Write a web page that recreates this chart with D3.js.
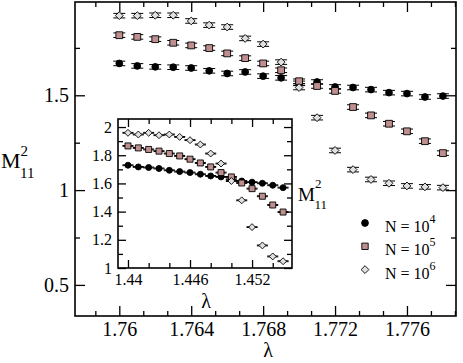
<!DOCTYPE html>
<html>
<head>
<meta charset="utf-8">
<script src="https://cdn.jsdelivr.net/npm/d3@7"></script>
<style>
body { margin: 0; background: #fff; }
svg { display: block; }
</style>
</head>
<body>
<div id="chart"></div>
<script>
// main panel: lambda 1.760 .. 1.778
let lambdaMain = [1.760, 1.761, 1.762, 1.763, 1.764, 1.765, 1.766, 1.767, 1.768, 1.769,
  1.770, 1.771, 1.772, 1.773, 1.774, 1.775, 1.776, 1.777, 1.778];
let mainN4 = [1.668, 1.655, 1.650, 1.648, 1.644, 1.629, 1.615, 1.623, 1.601, 1.592,
  1.563, 1.570, 1.544, 1.541, 1.530, 1.514, 1.509, 1.491, 1.496];
let mainN5 = [1.817, 1.808, 1.796, 1.777, 1.763, 1.749, 1.721, 1.696, 1.668, 1.632,
  1.574, 1.549, 1.523, 1.438, 1.394, 1.350, 1.310, 1.258, 1.195];
let mainN6 = [1.920, 1.920, 1.922, 1.922, 1.892, 1.870, 1.860, 1.800, 1.770, 1.675,
  1.541, 1.382, 1.209, 1.108, 1.056, 1.036, 1.022, 1.017, 1.013];

// inset: lambda 1.440 .. 1.455
let lambdaInset = [1.440, 1.441, 1.442, 1.443, 1.444, 1.445, 1.446, 1.447, 1.448, 1.449,
  1.450, 1.451, 1.452, 1.453, 1.454, 1.455];
let insetN4 = [1.729, 1.717, 1.713, 1.706, 1.693, 1.684, 1.677, 1.665, 1.653, 1.646,
  1.629, 1.617, 1.609, 1.601, 1.587, 1.570];
let insetN5 = [1.866, 1.852, 1.841, 1.829, 1.812, 1.795, 1.772, 1.745, 1.717, 1.677,
  1.646, 1.603, 1.563, 1.509, 1.447, 1.397];
let insetN6 = [1.959, 1.947, 1.959, 1.942, 1.947, 1.930, 1.907, 1.876, 1.812, 1.741,
  1.617, 1.480, 1.290, 1.160, 1.082, 1.048];

let errMain = 0.012;
let errInset = 0.003;

let legendExp = ['4', '5', '6'];
let mainXTicks = [1.76, 1.764, 1.768, 1.772, 1.776];
let mainYTicks = [0.5, 1, 1.5];
let insetXTicks = [1.44, 1.446, 1.452];
let insetYTicks = [1, 1.2, 1.4, 1.6, 1.8, 2];

let w = 463, h = 363;
let serif = '"Liberation Serif", "Times New Roman", Times, "DejaVu Serif", serif';

let svg = d3.select('#chart').
append('svg').
attr('width', w).
attr('height', h).
attr('font-family', serif);

let fmt = d => String(+d.toFixed(3));

// marker shapes
function markerPath(kind, s) {
  if (kind == 'circle') return d3.symbol().type(d3.symbolCircle).size(Math.PI * s * s)();
  if (kind == 'square') return 'M' + (-s) + ',' + (-s) + 'H' + s + 'V' + s + 'H' + (-s) + 'Z';
  let d = s * 1.15;
  return 'M0,' + (-d) + 'L' + d + ',0L0,' + d + 'L' + (-d) + ',0Z';
}
let styles = [
  {kind: 'circle', fill: '#000'},
  {kind: 'square', fill: '#bf8f8f'},
  {kind: 'diamond', fill: '#e0e0e0'}
];

function minorTicks(majors, n) {
  let step = (majors[1] - majors[0]) / (n + 1);
  let out = [];
  for (let i = -n - 1; i < (majors.length + 1) * (n + 1); i++) {
    let v = majors[0] + i * step;
    out.push(+v.toFixed(6));
  }
  return out.filter(v => !majors.some(m => Math.abs(m - v) < step / 10));
}

function drawPanel(g, x, y, opt) {
  let [x0, x1] = x.range();
  let [y0, y1] = y.range();
  g.append('rect').
  attr('x', x0).attr('y', y1).
  attr('width', x1 - x0).attr('height', y0 - y1).
  attr('fill', '#fff');

  let xMin = minorTicks(opt.xTicks, opt.xMinorN).filter(v => x(v) > x0 + 1 && x(v) < x1 - 1);
  let yMin = minorTicks(opt.yTicks, opt.yMinorN).filter(v => y(v) < y0 - 1 && y(v) > y1 + 1);

  let axes = [
    [d3.axisBottom(x), 'translate(0,' + y0 + ')', opt.xTicks, xMin, true],
    [d3.axisTop(x), 'translate(0,' + y1 + ')', opt.xTicks, xMin, false],
    [d3.axisLeft(y), 'translate(' + x0 + ',0)', opt.yTicks, yMin, true],
    [d3.axisRight(y), 'translate(' + x1 + ',0)', opt.yTicks, yMin, false]
  ];
  axes.forEach(([ax, tr, major, minor, lab]) => {
    let a = g.append('g').attr('transform', tr).
    call(ax.tickValues(major).tickSizeInner(-opt.major).tickSizeOuter(0).
      tickPadding(lab ? opt.pad : 0).tickFormat(lab ? fmt : ''));
    a.attr('font-family', serif).attr('font-size', opt.font);
    a.selectAll('.domain').remove();
    a.selectAll('line').attr('stroke', '#000').attr('stroke-width', 1.3);
    a.selectAll('text').attr('fill', '#000');
    let b = g.append('g').attr('transform', tr).
    call(ax.tickValues(minor).tickSizeInner(-opt.minor).tickSizeOuter(0).tickFormat(''));
    b.selectAll('.domain').remove();
    b.selectAll('line').attr('stroke', '#000').attr('stroke-width', 1.3);
  });

  g.append('rect').
  attr('x', x0).attr('y', y1).
  attr('width', x1 - x0).attr('height', y0 - y1).
  attr('fill', 'none').
  attr('stroke', '#000').
  attr('stroke-width', 1.6);
}

function drawSeries(g, x, y, xs, ys, st, err, size, cap) {
  let pts = g.append('g').selectAll('g').
  data(ys.map((v, i) => ({x: xs[i], y: v}))).
  join('g').
  attr('transform', d => 'translate(' + x(d.x) + ',0)');

  pts.append('line').
  attr('y1', d => y(d.y - err)).attr('y2', d => y(d.y + err)).
  attr('stroke', '#000');
  pts.append('line').
  attr('x1', -cap).attr('x2', cap).
  attr('y1', d => y(d.y - err)).attr('y2', d => y(d.y - err)).
  attr('stroke', '#000');
  pts.append('line').
  attr('x1', -cap).attr('x2', cap).
  attr('y1', d => y(d.y + err)).attr('y2', d => y(d.y + err)).
  attr('stroke', '#000');
  pts.append('path').
  attr('transform', d => 'translate(0,' + y(d.y) + ')').
  attr('d', markerPath(st.kind, size)).
  attr('fill', st.fill).
  attr('stroke', '#000').
  attr('stroke-width', 0.9);
}

// ----- main panel
let xMain = d3.scaleLinear().domain([1.757536, 1.778727]).range([75, 456]);
let yMain = d3.scaleLinear().domain([0.336, 1.992]).range([316, 2]);

let main = svg.append('g');
drawPanel(main, xMain, yMain, {xTicks: mainXTicks, yTicks: mainYTicks, xMinorN: 2, yMinorN: 1,
  major: 10, minor: 5, pad: 6, font: 20});

[mainN4, mainN5, mainN6].forEach((ys, i) => {
  drawSeries(main, xMain, yMain, lambdaMain, ys, styles[i], errMain, 3.4, 6);
});

// axis titles
main.append('text').
attr('x', 268).attr('y', 357).
attr('text-anchor', 'middle').
attr('font-size', 20).
text('λ');

let ylab = main.append('text').attr('x', 1).attr('y', 168).attr('font-size', 22);
ylab.append('tspan').text('M');
ylab.append('tspan').attr('dy', -12).attr('font-size', 15).text('2');
ylab.append('tspan').attr('dx', -8).attr('dy', 22).attr('font-size', 15).text('11');

// legend
legendExp.forEach((e, i) => {
  let ly = 223 + i * 23.3;
  main.append('path').
  attr('transform', 'translate(365,' + ly + ')').
  attr('d', markerPath(styles[i].kind, i == 1 ? 3.2 : 3.4)).
  attr('fill', styles[i].fill).
  attr('stroke', '#000').
  attr('stroke-width', 0.9);
  let t = main.append('text').attr('x', 385).attr('y', ly + 9).attr('font-size', 16);
  t.append('tspan').text('N = 10');
  t.append('tspan').attr('dy', -9).attr('font-size', 12).text(e);
});

// ----- inset
let xIn = d3.scaleLinear().domain([1.439035, 1.455862]).range([118, 292]);
let yIn = d3.scaleLinear().domain([1, 2.057]).range([268, 119]);

let inset = svg.append('g');
drawPanel(inset, xIn, yIn, {xTicks: insetXTicks, yTicks: insetYTicks, xMinorN: 2, yMinorN: 1,
  major: 8, minor: 5, pad: 6, font: 16});

[insetN4, insetN5, insetN6].forEach((ys, i) => {
  drawSeries(inset, xIn, yIn, lambdaInset, ys, styles[i], errInset, 3, 5.5);
});

inset.append('text').
attr('x', 206).attr('y', 308).
attr('text-anchor', 'middle').
attr('font-size', 20).
text('λ');

let ilab = inset.append('text').attr('x', 298).attr('y', 201).attr('font-size', 19);
ilab.append('tspan').text('M');
ilab.append('tspan').attr('dy', -13).attr('font-size', 13).text('2');
ilab.append('tspan').attr('dx', -7).attr('dy', 21).attr('font-size', 13).text('11');
</script>
</body>
</html>
